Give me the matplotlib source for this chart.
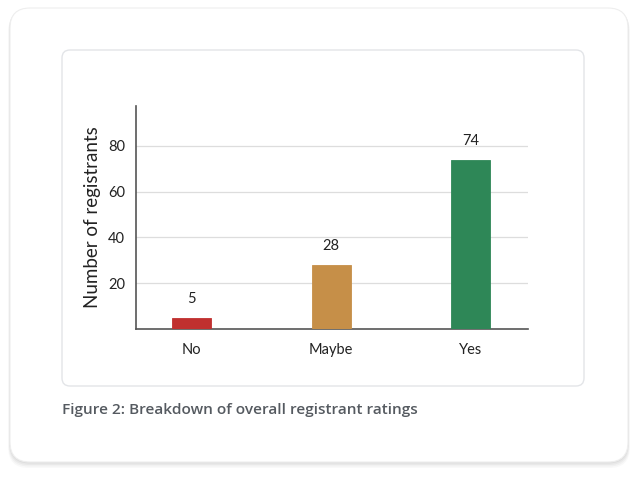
import numpy as np
import matplotlib
matplotlib.use("Agg")
import matplotlib.pyplot as plt
from matplotlib.patches import FancyBboxPatch

categories = ["No", "Maybe", "Yes"]
counts = [5, 28, 74]
bar_colors = ["#c0302f", "#c68f48", "#2e8757"]
yticks = [20, 40, 60, 80]

plt.rcParams["font.family"] = ["Lato", "DejaVu Sans"]

fig = plt.figure(figsize=(6.4, 4.79), dpi=100)
fig.patch.set_facecolor("#ffffff")

inch = fig.dpi_scale_trans

# soft shadow under the outer card
for i, a in enumerate([0.04, 0.035, 0.03, 0.025]):
    d = 0.015 * (i + 1)
    fig.patches.append(FancyBboxPatch((0.10 - d * 0.3, 0.17 - d), 6.18 + d * 0.6, 4.54 + d * 0.6,
                                      boxstyle="round,pad=0,rounding_size=0.2",
                                      transform=inch, facecolor="#000000", edgecolor="none",
                                      alpha=a, zorder=0))
fig.patches.append(FancyBboxPatch((0.10, 0.17), 6.18, 4.54,
                                  boxstyle="round,pad=0,rounding_size=0.2",
                                  transform=inch, facecolor="#ffffff", edgecolor="#eeeeee",
                                  linewidth=0.8, zorder=1))
# inner card
fig.patches.append(FancyBboxPatch((0.62, 0.93), 5.22, 3.36,
                                  boxstyle="round,pad=0,rounding_size=0.08",
                                  transform=inch, facecolor="#ffffff", edgecolor="#e3e5e8",
                                  linewidth=1.0, zorder=2))

ax = fig.add_axes([0.2125, 0.3132, 0.6125, 0.4655])
ax.set_zorder(5)
ax.set_facecolor("none")
x = np.arange(len(categories))
bars = ax.bar(x, counts, width=0.28, color=bar_colors, edgecolor=bar_colors,
              linewidth=0.6, zorder=3)
for xi, v in zip(x, counts):
    ax.text(xi, v + 5, str(v), ha="center", va="bottom", fontsize=10.5, color="#222222")

ax.set_xlim(-0.4, 2.41)
ax.set_ylim(0, 97.4)
ax.set_yticks(yticks)
ax.set_xticks(x)
ax.set_xticklabels(categories)
ax.tick_params(axis="both", length=0, labelsize=10.5, colors="#222222")
ax.tick_params(axis="x", pad=10)
ax.tick_params(axis="y", pad=8)
ax.yaxis.grid(True, color="#dddddd", linewidth=0.9, zorder=0)
ax.set_axisbelow(True)
for s in ["top", "right"]:
    ax.spines[s].set_visible(False)
for s in ["left", "bottom"]:
    ax.spines[s].set_color("#555555")
    ax.spines[s].set_linewidth(1.2)
ax.set_ylabel("Number of registrants", fontsize=13.5, color="#222222", labelpad=5)

fig.text(62 / 640, 1 - 410 / 479, "Figure 2: Breakdown of overall registrant ratings",
         family=["Open Sans", "DejaVu Sans"], fontweight="semibold", fontsize=11.1,
         color="#555a60", ha="left", va="center", zorder=6)

fig.savefig("out.png", dpi=100, facecolor=fig.get_facecolor())
